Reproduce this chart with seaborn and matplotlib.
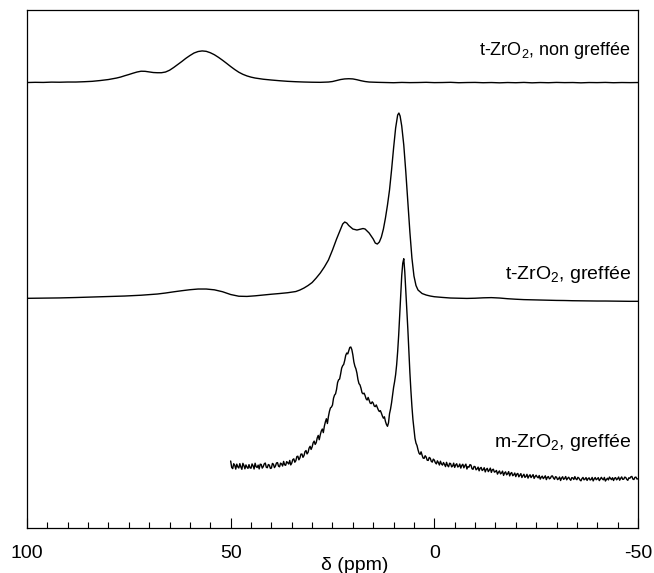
import numpy as np
import pandas as pd
import matplotlib
matplotlib.use("Agg")
import matplotlib.pyplot as plt
from matplotlib.ticker import MultipleLocator
import seaborn as sns

# t-ZrO2, non greffée (height above its own baseline)
top_ppm = [100, 98, 96, 94, 92, 90, 88, 86, 84, 82,
           80, 78,
           77, 76, 75, 74, 73, 72, 71, 70, 69, 68, 67, 66, 65, 64, 63, 62, 61,
           60, 59, 58, 57, 56, 55, 54, 53, 52, 51, 50, 49, 48, 47, 46, 45, 44,
           42, 40, 38, 36, 34, 32, 30, 28, 26,
           25, 24, 23, 22, 21, 20, 19, 18, 17, 16,
           14, 12, 10, 8, 6, 4, 2, 0, -2, -4, -6, -8, -10, -12, -14, -16, -18,
           -20, -22, -24, -26, -28, -30, -32, -34, -36, -38, -40, -42, -44,
           -46, -48, -50]
top_int = [0.0, 0.2, 0.1, 0.4, 0.3, 0.5, 0.5, 0.8, 1.2, 2.0,
           3.0, 4.5,
           5.5, 6.8, 8.0, 9.3, 10.5, 11.3, 11.2, 10.6, 10.0, 9.8, 9.8, 10.5,
           12.3, 15.0, 18.0, 21.0, 24.2, 27.0, 29.5, 31.0, 31.6, 31.2, 29.8,
           27.8, 25.2, 22.3, 19.2, 16.0, 13.0, 10.3, 8.2, 6.6, 5.4, 4.5,
           3.3, 2.5, 1.8, 1.2, 0.8, 0.5, 0.3, 0.2, 0.5,
           1.0, 2.0, 3.0, 3.6, 3.8, 3.6, 2.8, 1.8, 1.0, 0.5,
           0.2, 0.0, -0.2, 0.1, -0.1, 0.0, 0.2, -0.1, 0.0, 0.2, -0.2, 0.0, 0.1,
           -0.2, 0.0, -0.3, 0.0, -0.2, 0.1, -0.3, 0.0, -0.2, 0.1, -0.1, 0.0,
           -0.3, 0.0, -0.1, 0.1, -0.2, 0.0, -0.1, 0.0]

# t-ZrO2, greffée
mid_ppm = [100, 96, 92, 88, 84, 80, 76, 72, 68, 66, 64, 62, 60, 58, 56, 54,
           52, 50, 48, 46, 44, 42, 40, 38, 36, 34, 33, 32, 31, 30, 29, 28, 27,
           26, 25, 24, 23, 22.5, 22, 21.5, 21, 20, 19, 18, 17.5, 17, 16, 15,
           14.5, 14, 13.5, 13, 12.5, 12, 11.5, 11, 10.5, 10, 9.5, 9, 8.7, 8.4,
           8, 7.5, 7, 6.5, 6, 5.5, 5, 4.5, 4, 3, 2, 1, 0, -2, -4, -6, -8, -10,
           -12, -14, -16, -18, -20, -22, -24, -26, -28, -30, -32, -34, -36,
           -38, -40, -42, -44, -46, -48, -50]
mid_int = [1.7, 1.9, 2.1, 2.5, 3.0, 3.5, 4.0, 4.8, 6.0, 7.0, 8.2, 9.3, 10.3,
           11.0, 11.0, 10.2, 8.3, 5.5, 3.8, 3.6, 4.2, 5.0, 5.8, 6.5, 7.3, 8.5,
           10.0, 12.0, 14.5, 17.5, 22.0, 27.0, 33.0, 40.0, 50.0, 61.0, 71.0,
           76.0, 78.0, 77.0, 74.5, 71.0, 70.0, 71.0, 71.5, 71.0, 67.0, 61.0,
           57.0, 56.0, 58.0, 63.0, 71.0, 82.0, 95.0, 110.0, 130.0, 152.0,
           172.0, 185.0, 187.0, 184.0, 174.0, 155.0, 128.0, 98.0, 68.0, 42.0,
           24.0, 14.5, 10.0, 6.5, 5.0, 4.0, 3.3, 2.6, 2.0, 1.8, 1.6, 1.8, 2.2,
           2.4, 2.0, 1.3, 0.8, 0.4, 0.2, 0.0, -0.2, -0.4, -0.5, -0.7, -0.8,
           -0.9, -1.0, -1.0, -1.1, -1.2, -1.3, -1.3]

# m-ZrO2, greffée (recorded 50 -> -50 ppm, 0.25 ppm step), one row per 5 ppm
bot_ppm = np.linspace(50, -50, 401)
bot_int = [
    19.0, 12.6, 11.4, 16.3, 14.8, 10.9, 15.9, 13.2, 12.0, 16.4, 13.1, 10.7, 16.7, 14.5, 11.2, 15.1, 12.9, 11.6, 15.4, 12.2,
    11.8, 16.1, 14.2, 11.0, 16.8, 13.3, 12.5, 14.9, 11.1, 15.8, 15.6, 11.9, 13.4, 16.2, 17.0, 12.7, 12.3, 15.5, 14.9, 11.6,
    11.9, 16.6, 15.8, 12.4, 14.0, 17.1, 17.4, 13.8, 13.2, 16.9, 16.1, 14.0, 18.6, 15.2, 14.7, 18.4, 17.3, 16.0, 19.6, 15.1,
    16.9, 20.4, 21.2, 17.8, 19.3, 23.5, 23.8, 20.2, 22.1, 25.9, 26.0, 22.7, 24.4, 28.4, 29.5, 26.1, 27.6, 31.9, 33.7, 30.6,
    33.1, 37.2, 38.9, 35.6, 37.4, 42.1, 44.6, 40.3, 45.2, 49.0, 51.0, 47.4, 53.8, 58.1, 61.3, 56.5, 63.5, 68.7, 72.1, 73.0,
    75.0, 81.8, 84.9, 86.2, 90.7, 97.5, 100.2, 101.0, 106.1, 111.9, 114.3, 115.6, 119.6, 124.7, 127.0, 126.1, 129.4, 132.6, 133.0, 130.4,
    125.1, 118.0, 113.8, 111.2, 106.9, 100.5, 96.4, 95.1, 91.8, 87.3, 86.2, 86.9, 84.5, 81.2, 80.0, 82.6, 79.8, 76.9, 76.4, 78.2,
    76.9, 74.0, 73.4, 75.1, 72.7, 70.1, 68.5, 69.4, 66.9, 64.0, 61.8, 63.2, 58.6, 55.5, 53.7, 57.2, 66.3, 71.0, 77.2, 84.8,
    92.6, 98.4, 105.4, 115.2, 128.5, 145.0, 164.2, 185.3, 204.6, 216.8, 221.3, 208.0, 189.4, 170.6, 150.8, 128.9, 107.5, 89.4, 73.6, 60.5,
    50.6, 41.7, 36.9, 34.5, 30.2, 26.8, 25.6, 28.2, 24.8, 21.9, 21.7, 24.3, 22.9, 19.8, 19.6, 22.6, 21.8, 18.7, 17.9, 20.9,
    19.9, 17.3, 16.1, 19.2, 17.4, 15.0, 18.8, 16.1, 14.9, 17.5, 15.6, 13.4, 17.7, 14.6, 13.2, 16.8, 16.4, 13.1, 14.0, 16.9,
    12.6, 15.1, 16.3, 13.0, 13.7, 16.0, 11.9, 14.6, 15.8, 12.2, 14.3, 15.9, 11.0, 13.5, 12.8, 15.4, 14.9, 11.3, 10.7, 13.6,
    13.4, 10.2, 11.1, 12.9, 9.2, 11.8, 12.6, 9.5, 10.4, 12.3, 8.1, 10.6, 11.7, 8.4, 9.9, 11.9, 7.6, 10.3, 10.8, 7.9,
    8.4, 9.6, 5.9, 7.8, 9.1, 6.1, 7.0, 8.9, 4.6, 7.1, 8.2, 5.2, 6.3, 8.4, 4.1, 6.6, 7.5, 4.3, 5.2, 7.0,
    3.4, 5.9, 6.6, 3.2, 4.9, 6.4, 2.5, 4.3, 5.8, 2.6, 3.6, 5.7, 1.9, 4.0, 5.3, 2.4, 4.0, 5.4, 1.6, 3.5,
    4.8, 3.1, 2.2, 4.5, 0.9, 2.8, 3.9, 1.4, 2.6, 4.2, 0.4, 2.7, 3.5, 1.2, 1.8, 3.9, 4.1, 2.0, 0.7, 3.3,
    2.9, 0.4, 1.2, 3.0, -0.5, 1.9, 3.3, 0.6, 1.6, 3.5, 0.2, 1.8, 2.8, 0.9, -0.3, 2.4, 2.1, 0.5, 3.4, 1.2,
    0.3, 2.7, 1.9, 0.1, -0.8, 1.4, 2.6, 0.2, 0.9, 2.5, -0.4, 1.3, 2.2, 0.0, 0.6, 2.6, -0.9, 1.1, 2.5, 0.3,
    1.1, 2.4, -0.6, 0.9, 2.7, 1.1, 0.2, 2.6, -1.0, 0.5, 1.8, 0.1, 3.0, 1.6, 0.4, 2.3, -0.5, 1.8, 2.4, 0.2,
    1.3, 3.0, -0.2, 1.6, 3.1, 0.7, 0.8, 2.9, 2.5, 0.6, -0.3, 2.2, 1.7, 3.2, 3.6, 0.9, 0.5, 2.7, 2.9, 1.0,
    1.2]

labels = ["t-ZrO$_2$, non greffée", "t-ZrO$_2$, greffée", "m-ZrO$_2$, greffée"]
offsets = [397.5, 180.0, 0.0]

spectra = pd.concat([
    pd.DataFrame({"ppm": top_ppm, "y": np.array(top_int) + offsets[0], "sample": labels[0]}),
    pd.DataFrame({"ppm": mid_ppm, "y": np.array(mid_int) + offsets[1], "sample": labels[1]}),
    pd.DataFrame({"ppm": bot_ppm, "y": np.array(bot_int) + offsets[2], "sample": labels[2]}),
])

sns.set_style("white")
plt.rcParams["font.family"] = ["Liberation Sans", "DejaVu Sans"]
plt.rcParams["mathtext.fontset"] = "custom"
plt.rcParams["mathtext.rm"] = "Liberation Sans"
plt.rcParams["mathtext.it"] = "Liberation Sans"
plt.rcParams["axes.unicode_minus"] = False
plt.rcParams["text.color"] = "black"
plt.rcParams["axes.labelcolor"] = "black"
plt.rcParams["xtick.color"] = "black"

fig = plt.figure(figsize=(6.54, 5.73), dpi=100)
ax = fig.add_axes([0.0413, 0.0785, 0.9342, 0.904])

for name in labels:
    sns.lineplot(data=spectra[spectra["sample"] == name], x="ppm", y="y",
                 sort=False, color="black", linewidth=1.0, ax=ax)

ax.set_xlim(100, -50)
ax.set_ylim(-48, 470)
ax.set_yticks([])
ax.set_ylabel("")
ax.xaxis.set_major_locator(MultipleLocator(50))
ax.xaxis.set_minor_locator(MultipleLocator(5))
ax.tick_params(axis="x", which="both", direction="in", bottom=True, top=False,
               width=0.8, color="black", labelsize=14, pad=12)
ax.tick_params(axis="x", which="major", length=7.5)
ax.tick_params(axis="x", which="minor", length=4)
for s in ax.spines.values():
    s.set_color("black")
    s.set_linewidth(0.9)

ax.set_xlabel("δ (ppm)", fontsize=14)
ax.xaxis.set_label_coords(0.537, -0.055)

# sample names, right aligned near the frame
text_y = [0.913, 0.4807, 0.1564]
text_size = [13, 14, 14]
for name, ty, fs in zip(labels, text_y, text_size):
    ax.text(0.9885, ty, name, transform=ax.transAxes, ha="right", va="baseline",
            fontsize=fs)

fig.savefig("out.png", dpi=100)
